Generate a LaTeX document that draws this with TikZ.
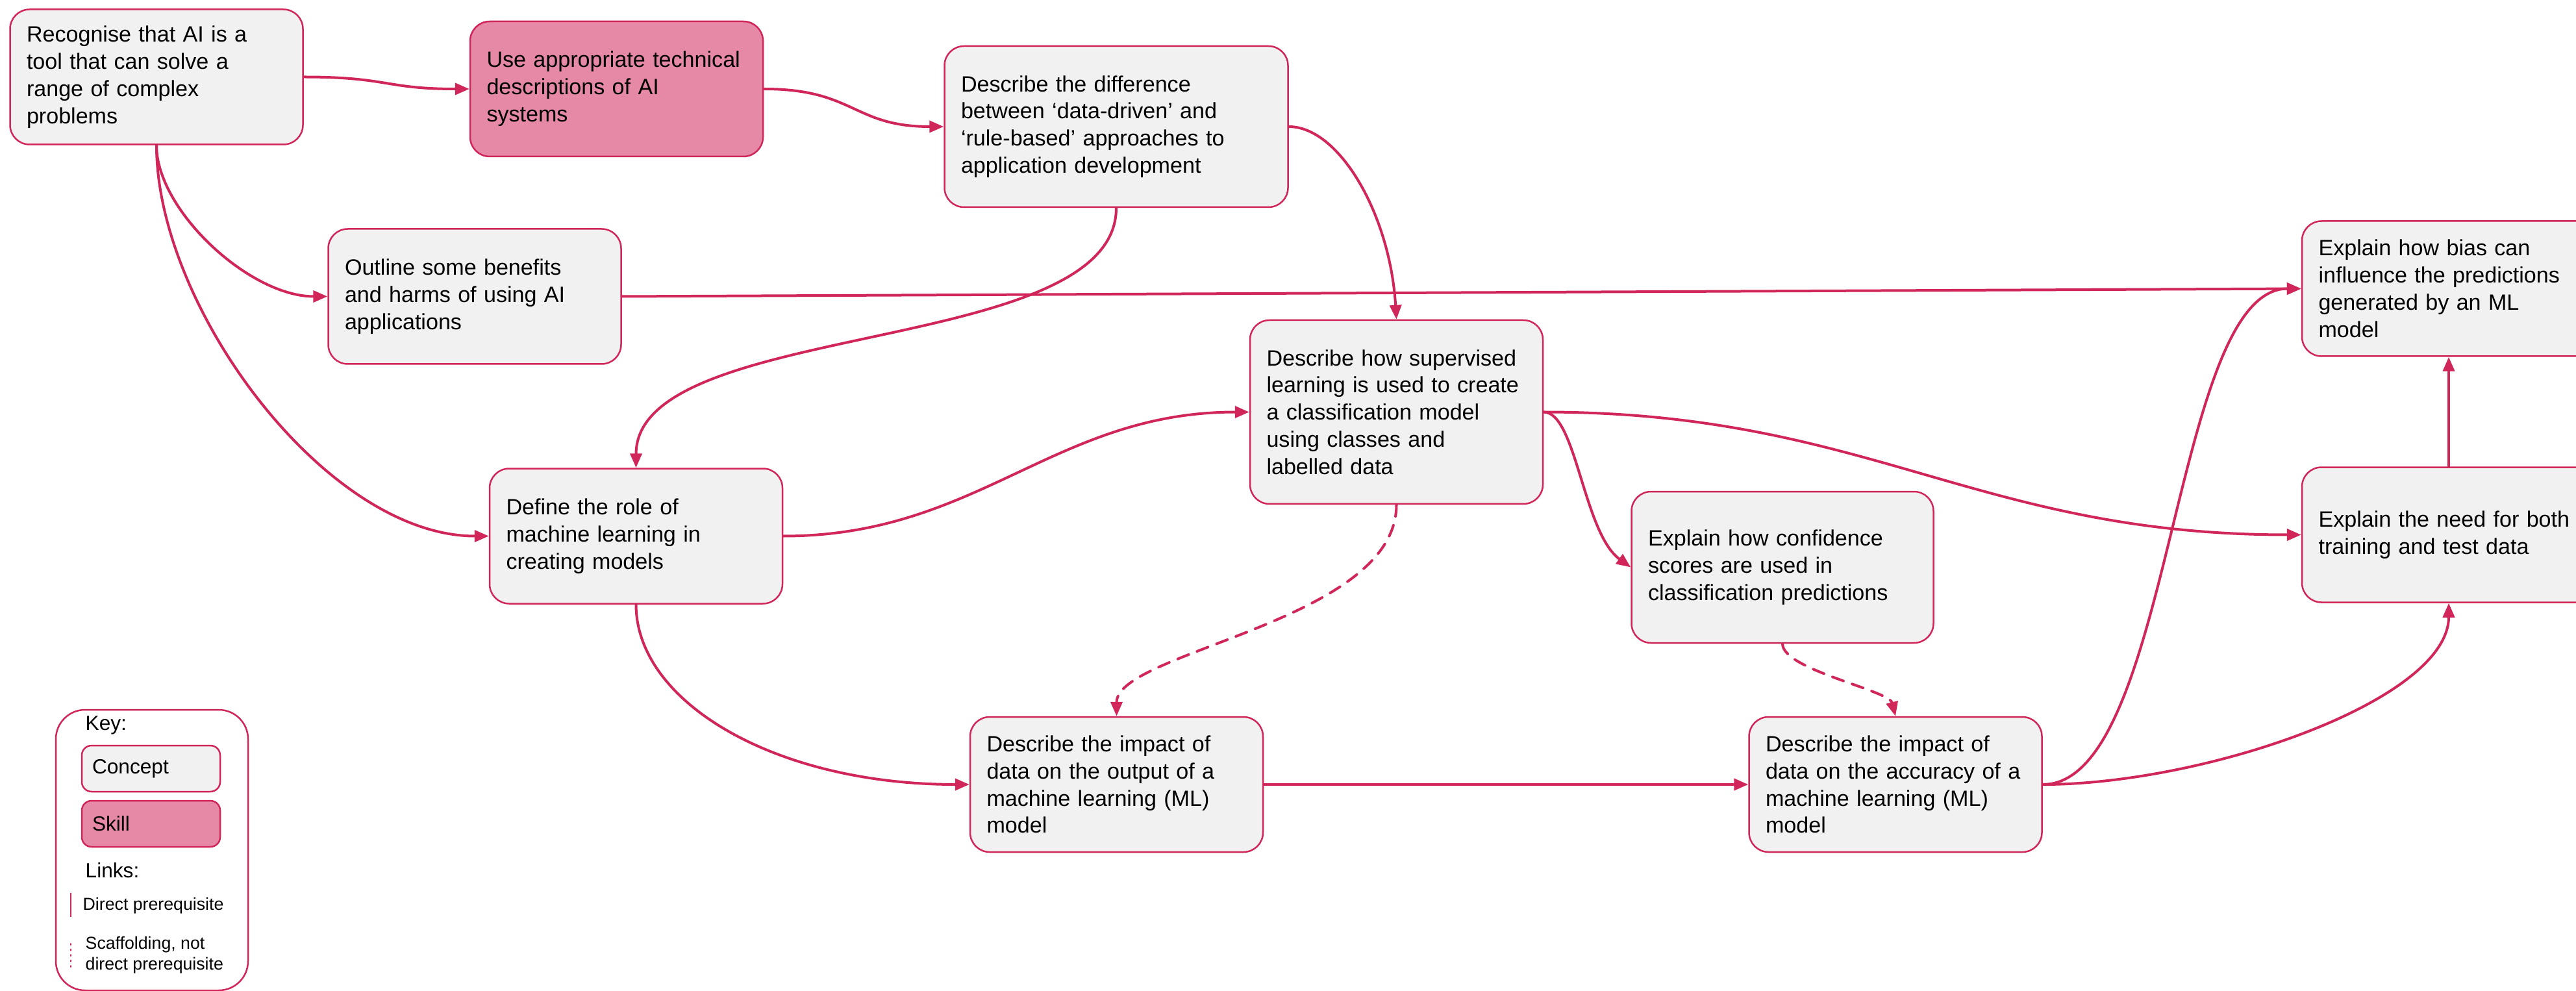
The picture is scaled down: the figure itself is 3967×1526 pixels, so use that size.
\documentclass[tikz,border=0pt]{standalone}
\usepackage{fontspec}
\setmainfont{Liberation Sans}
\usepackage{color}
\usetikzlibrary{arrows.meta}

\definecolor{linkred}{HTML}{D0265A}
\definecolor{conceptfill}{HTML}{F1F1F1}
\definecolor{skillfill}{HTML}{E589A6}

\tikzset{
  concept/.style={draw=linkred, fill=conceptfill, line width=0.25mm, rounded corners=3mm,
    align=left, text width=40mm, inner xsep=2.55mm, inner ysep=0mm, minimum height=20.8mm,
    font=\fontsize{9.7pt}{11.9pt}\selectfont},
  skill/.style={concept, fill=skillfill},
  link/.style={draw=linkred, line width=0.4mm, -{Triangle[length=2.2mm,width=1.8mm]}},
  scaffold/.style={link, dash pattern=on 1.8mm off 1.4mm},
  keylabel/.style={anchor=west, inner sep=0pt, font=\fontsize{9pt}{11pt}\selectfont},
  keynote/.style={anchor=west, inner sep=0pt, align=left, font=\fontsize{7.6pt}{9.1pt}\selectfont},
}

\begin{document}
\begin{tikzpicture}[x=0.1mm,y=-0.1mm,line cap=round]
  \useasboundingbox (0,0) rectangle (3967,1526);
  \fill[white] (0,0) rectangle (3967,1526);

  %% top row
  \node [concept] (recognise) at (241,118.5)
    {Recognise that AI is a\\tool that can solve a\\range of complex\\problems};
  \node [skill] (technical) at (949.5,137)
    {Use appropriate technical\\descriptions of AI\\systems};
  \node [concept, text width=47.8mm, minimum height=24.8mm] (difference) at (1719,195)
    {Describe the difference\\between ‘data-driven’ and\\‘rule-based’ approaches to\\application development};

  %% middle
  \node [concept] (benefits) at (731,456.5)
    {Outline some benefits\\and harms of using AI\\applications};
  \node [concept, minimum height=28.3mm] (supervised) at (2150.5,634.5)
    {Describe how supervised\\learning is used to create\\a classification model\\using classes and\\labelled data};
  \node [concept, text width=41.4mm, minimum height=23.3mm] (confidence) at (2745,873.5)
    {Explain how confidence\\scores are used in\\classification predictions};
  \node [concept, text width=40.1mm] (bias) at (3771,444.5)
    {Explain how bias can\\influence the predictions\\generated by an ML\\model};
  \node [concept, text width=40.1mm] (traintest) at (3771,823.5)
    {Explain the need for both\\training and test data};
  \node [concept] (mlrole) at (979.5,825.5)
    {Define the role of\\machine learning in\\creating models};

  %% bottom row
  \node [concept] (impactout) at (1719.5,1208)
    {Describe the impact of\\data on the output of a\\machine learning (ML)\\model};
  \node [concept] (impactacc) at (2919,1208)
    {Describe the impact of\\data on the accuracy of a\\machine learning (ML)\\model};

  %% direct prerequisites
  \draw [link] (recognise.east) .. controls +(130,0) and +(-130,0) .. (technical.west);
  \draw [link] (technical.east) .. controls +(140,0) and +(-140,0) .. (difference.west);
  \draw [link] (difference.east) .. controls +(77,0) and +(-10,-163) .. (supervised.north);
  \draw [link] (difference.south) .. controls +(0,230) and +(0,-230) .. (mlrole.north);
  \draw [link] (recognise.south) .. controls +(0,100) and +(-120,0) .. (benefits.west);
  \draw [link] (recognise.south) .. controls +(0,250) and +(-250,0) .. (mlrole.west);
  \draw [link] (benefits.east) -- (bias.west);
  \draw [link] (mlrole.east) .. controls +(300,0) and +(-300,0) .. (supervised.west);
  \draw [link] (supervised.east) .. controls +(500,0) and +(-500,0) .. (traintest.west);
  \draw [link] (supervised.east) .. controls +(50,0) and +(-73,-53) .. (confidence.west);
  \draw [link] (mlrole.south) .. controls +(0,150) and +(-300,0) .. (impactout.west);
  \draw [link] (impactout) -- (impactacc);
  \draw [link] (impactacc.east) .. controls +(200,0) and +(-200,0) .. (bias.west);
  \draw [link] (impactacc.east) .. controls +(250,0) and +(0,150) .. (traintest.south);
  \draw [link] (traintest) -- (bias);

  %% scaffolding
  \draw [scaffold] (supervised.south) .. controls +(0,180) and +(0,-100) .. (impactout.north);
  \draw [scaffold] (confidence.south) .. controls +(0,40) and +(-10,-40) .. (impactacc.north);

  %% key
  \node [draw=linkred, fill=white, line width=0.25mm, rounded corners=4.5mm,
    minimum width=29.6mm, minimum height=43.2mm] (keyframe) at (234,1309) {};
  \node [keylabel] (keytitle) at (131,1117) {Key:};
  \node [concept, text width=18.1mm, inner xsep=1.6mm, minimum height=7.1mm, rounded corners=1.5mm,
    font=\fontsize{9pt}{11pt}\selectfont] (keyconcept) at (232.5,1183.5) {Concept};
  \node [skill, text width=18.1mm, inner xsep=1.6mm, minimum height=7.1mm, rounded corners=1.5mm,
    font=\fontsize{9pt}{11pt}\selectfont] (keyskill) at (232.5,1268.5) {Skill};
  \node [keylabel] (keylinks) at (131,1340) {Links:};
  \draw [draw=linkred, line width=0.17mm, line cap=butt] (109,1375) -- (109,1412);
  \node [keynote] (keydirect) at (127,1395) {Direct prerequisite};
  \draw [draw=linkred, line width=0.2mm, dash pattern=on 0.2mm off 0.65mm] (109,1453) -- (109,1490);
  \node [keynote] (keyscaffold) at (131,1471) {Scaffolding, not\\direct prerequisite};
\end{tikzpicture}
\end{document}
